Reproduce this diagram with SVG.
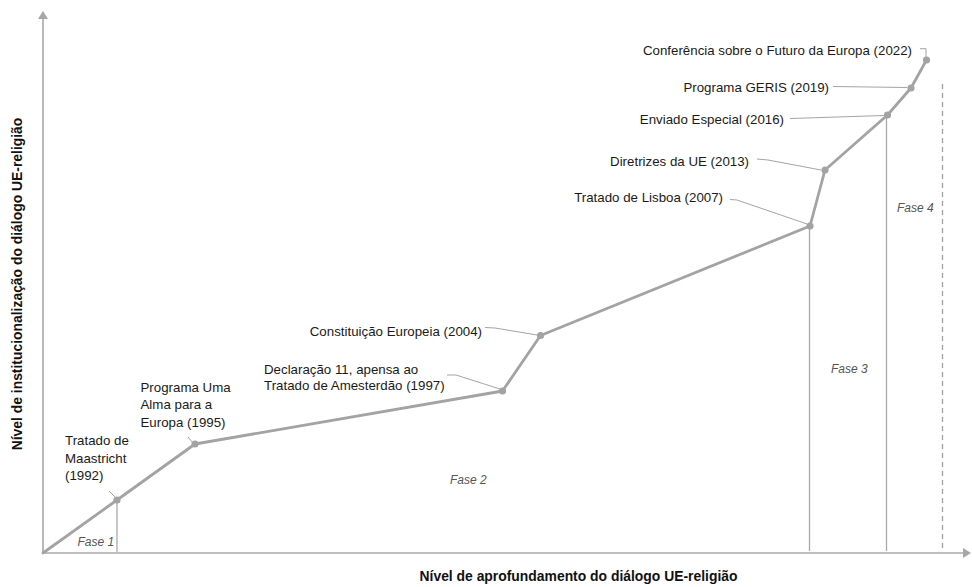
<svg xmlns="http://www.w3.org/2000/svg" width="972" height="587" viewBox="0 0 972 587">
<style>
.lbl{font-family:"Liberation Sans",Arial,sans-serif;font-size:13.3px;fill:#1a1a1a}
.end{text-anchor:end}
.ax{font-family:"Liberation Sans",Arial,sans-serif;font-size:13.9px;font-weight:bold;fill:#111;text-anchor:middle}
.fase{font-family:"Liberation Sans",Arial,sans-serif;font-size:12px;font-style:italic;fill:#555}
.axis{stroke:#a8a8a8;stroke-width:1.6;fill:none}
.main{stroke:#a3a3a3;stroke-width:2.8;fill:none;stroke-linejoin:round;stroke-linecap:round}
.dot{fill:#a3a3a3}
.lead{stroke:#9a9a9a;stroke-width:0.9;fill:none}
.vline{stroke:#aaaaaa;stroke-width:1.3;fill:none}
.dash{stroke:#a0a0a0;stroke-width:1.3;fill:none;stroke-dasharray:5 4}
</style>
<rect width="972" height="587" fill="#ffffff"/>
<g id="axes">
<line class="axis" x1="43" y1="553" x2="43" y2="18"/>
<polygon points="43,11 38,19 48,19" fill="#a8a8a8"/>
<line class="axis" x1="43" y1="553" x2="964" y2="553"/>
<polygon points="971,553 963,548 963,558" fill="#a8a8a8"/>
<text class="ax" x="578.5" y="581">Nível de aprofundamento do diálogo UE-religião</text>
<text class="ax" transform="translate(21.5,284) rotate(-90)">Nível de institucionalização do diálogo UE-religião</text>
</g>
<g id="phases">
<line class="vline" x1="117" y1="500" x2="117" y2="552"/>
<line class="vline" x1="809.5" y1="226" x2="809.5" y2="551"/>
<line class="vline" x1="886.5" y1="115" x2="886.5" y2="551"/>
<line class="dash" x1="942.5" y1="84" x2="942.5" y2="549"/>
<text class="fase" x="77.5" y="546">Fase 1</text>
<text class="fase" x="450" y="484">Fase 2</text>
<text class="fase" x="831" y="372.5">Fase 3</text>
<text class="fase" x="897" y="212">Fase 4</text>
</g>
<g id="connectors">
<polyline class="main" points="43,553 117,500 195,444 502.5,391 540.5,335.5 810,226 825,170 887.5,115 911,88 926.5,60"/>
<path class="lead" d="M109,491 L115,497"/>
<path class="lead" d="M188,437 L193,443"/>
<path class="lead" d="M447,375 L456,375 L500,389"/>
<path class="lead" d="M485,327.5 L495,328 L537,335"/>
<path class="lead" d="M730,199.5 L737,200 L807,224"/>
<path class="lead" d="M757,159 L768,160 L821,170"/>
<path class="lead" d="M790,118.5 L884,115.5"/>
<path class="lead" d="M833,86.5 L907,87.5"/>
<path class="lead" d="M920,48.7 L926,48.7 L926,57"/>
</g>
<g id="n1992">
<circle class="dot" cx="117" cy="500" r="3.6"/>
<text class="lbl" x="65" y="445">Tratado de</text>
<text class="lbl" x="65" y="462.5">Maastricht</text>
<text class="lbl" x="65" y="480">(1992)</text>
</g>
<g id="n1995">
<circle class="dot" cx="195" cy="444" r="3.6"/>
<text class="lbl" x="140.5" y="391.5">Programa Uma</text>
<text class="lbl" x="140.5" y="409">Alma para a</text>
<text class="lbl" x="140.5" y="426.5">Europa (1995)</text>
</g>
<g id="n1997">
<circle class="dot" cx="502.5" cy="391" r="3.6"/>
<text class="lbl" x="264" y="374">Declaração 11, apensa ao</text>
<text class="lbl" x="264" y="390">Tratado de Amesterdão (1997)</text>
</g>
<g id="n2004">
<circle class="dot" cx="540.5" cy="335.5" r="3.6"/>
<text class="lbl end" x="482" y="336">Constituição Europeia (2004)</text>
</g>
<g id="n2007">
<circle class="dot" cx="810" cy="226" r="3.6"/>
<text class="lbl end" x="723" y="202">Tratado de Lisboa (2007)</text>
</g>
<g id="n2013">
<circle class="dot" cx="825" cy="170" r="3.6"/>
<text class="lbl end" x="749" y="166">Diretrizes da UE (2013)</text>
</g>
<g id="n2016">
<circle class="dot" cx="887.5" cy="115" r="3.6"/>
<text class="lbl end" x="784" y="124">Enviado Especial (2016)</text>
</g>
<g id="n2019">
<circle class="dot" cx="911" cy="88" r="3.6"/>
<text class="lbl end" x="829" y="92">Programa GERIS (2019)</text>
</g>
<g id="n2022">
<circle class="dot" cx="926.5" cy="60" r="3.6"/>
<text class="lbl end" x="912" y="55">Conferência sobre o Futuro da Europa (2022)</text>
</g>
</svg>
